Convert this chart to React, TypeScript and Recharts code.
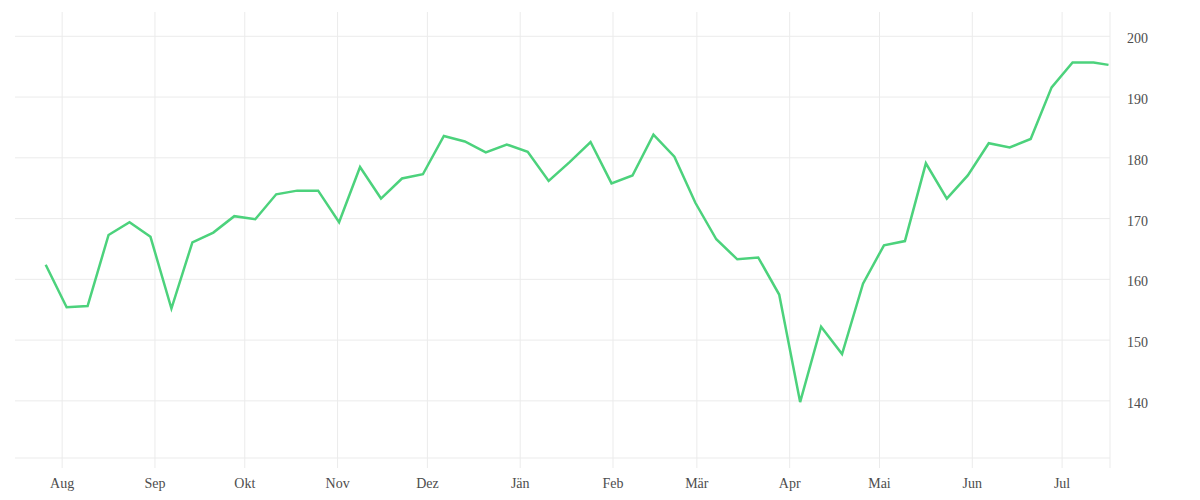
import React from 'react';
import { LineChart, Line, XAxis, YAxis, ReferenceLine } from 'recharts';

// weekly closes (Fridays) plus the latest day
const dates = [
  '2024-07-26', '2024-08-02', '2024-08-09', '2024-08-16', '2024-08-23', '2024-08-30',
  '2024-09-06', '2024-09-13', '2024-09-20', '2024-09-27', '2024-10-04', '2024-10-11',
  '2024-10-18', '2024-10-25', '2024-11-01', '2024-11-08', '2024-11-15', '2024-11-22',
  '2024-11-29', '2024-12-06', '2024-12-13', '2024-12-20', '2024-12-27', '2025-01-03',
  '2025-01-10', '2025-01-17', '2025-01-24', '2025-01-31', '2025-02-07', '2025-02-14',
  '2025-02-21', '2025-02-28', '2025-03-07', '2025-03-14', '2025-03-21', '2025-03-28',
  '2025-04-04', '2025-04-11', '2025-04-18', '2025-04-25', '2025-05-02', '2025-05-09',
  '2025-05-16', '2025-05-23', '2025-05-30', '2025-06-06', '2025-06-13', '2025-06-20',
  '2025-06-27', '2025-07-04', '2025-07-11', '2025-07-16',
];

const prices = [
  162.4, 155.4, 155.6, 167.3, 169.4, 167.0,
  155.2, 166.1, 167.7, 170.4, 169.9, 174.0,
  174.6, 174.6, 169.4, 178.5, 173.3, 176.6,
  177.3, 183.6, 182.7, 180.9, 182.2, 181.0,
  176.2, 179.3, 182.6, 175.8, 177.1, 183.8,
  180.2, 172.6, 166.6, 163.3, 163.6, 157.5,
  139.8, 152.2, 147.7, 159.3, 165.6, 166.3,
  179.1, 173.3, 177.1, 182.4, 181.7, 183.1,
  191.6, 195.7, 195.7, 195.3,
];

const monthNames = ['Jän', 'Feb', 'Mär', 'Apr', 'Mai', 'Jun', 'Jul', 'Aug', 'Sep', 'Okt', 'Nov', 'Dez'];

const monthTicks = [
  '2024-08-01', '2024-09-01', '2024-10-01', '2024-11-01', '2024-12-01', '2025-01-01',
  '2025-02-01', '2025-03-01', '2025-04-01', '2025-05-01', '2025-06-01', '2025-07-01',
];

const yTicks = [140, 150, 160, 170, 180, 190, 200];

const toTime = (d: string, hour = 0) => new Date(d + 'T00:00:00Z').getTime() + hour * 3600000;

const xStart = Date.UTC(2024, 6, 16, 6);
const xEnd = toTime('2025-07-17');

const data = dates.map((d, i) => ({ t: toTime(d, 12), value: prices[i] }));
const xTicks = [...monthTicks.map((d) => toTime(d)), xEnd];

const GRID = '#ebebeb';
const tickStyle = { fontFamily: '"Liberation Serif", serif', fontSize: 14, fill: '#4d4d4d' };

const formatMonth = (t: number) => (t === xEnd ? '' : monthNames[new Date(t).getUTCMonth()]);

export default function App() {
  return (
    <div style={{ width: 1184, height: 484 }}>
      <LineChart width={1184} height={484} data={data} margin={{ top: 4, right: 0, left: 7, bottom: 0 }}>
        <XAxis
          dataKey="t"
          type="number"
          scale="time"
          domain={[xStart, xEnd]}
          ticks={xTicks}
          tickFormatter={formatMonth}
          interval={0}
          height={34}
          tickSize={10}
          tickMargin={10}
          axisLine={{ stroke: GRID }}
          tickLine={{ stroke: GRID }}
          tick={tickStyle}
          allowDataOverflow
        />
        <YAxis
          orientation="right"
          width={82}
          domain={[130.6, 204]}
          ticks={yTicks}
          axisLine={false}
          tickLine={false}
          tickSize={0}
          tickMargin={17}
          tick={{ ...tickStyle, dy: 2 }}
          allowDataOverflow
        />
        {/* grid drawn as reference lines so no frame appears at the top/left edge */}
        {yTicks.map((v) => (
          <ReferenceLine key={`h-${v}`} y={v} stroke={GRID} strokeWidth={1} />
        ))}
        {xTicks.map((t) => (
          <ReferenceLine key={`v-${t}`} x={t} stroke={GRID} strokeWidth={1} />
        ))}
        <Line
          type="linear"
          dataKey="value"
          stroke="#4cd27c"
          strokeWidth={2.5}
          dot={false}
          activeDot={false}
          isAnimationActive={false}
        />
      </LineChart>
    </div>
  );
}
